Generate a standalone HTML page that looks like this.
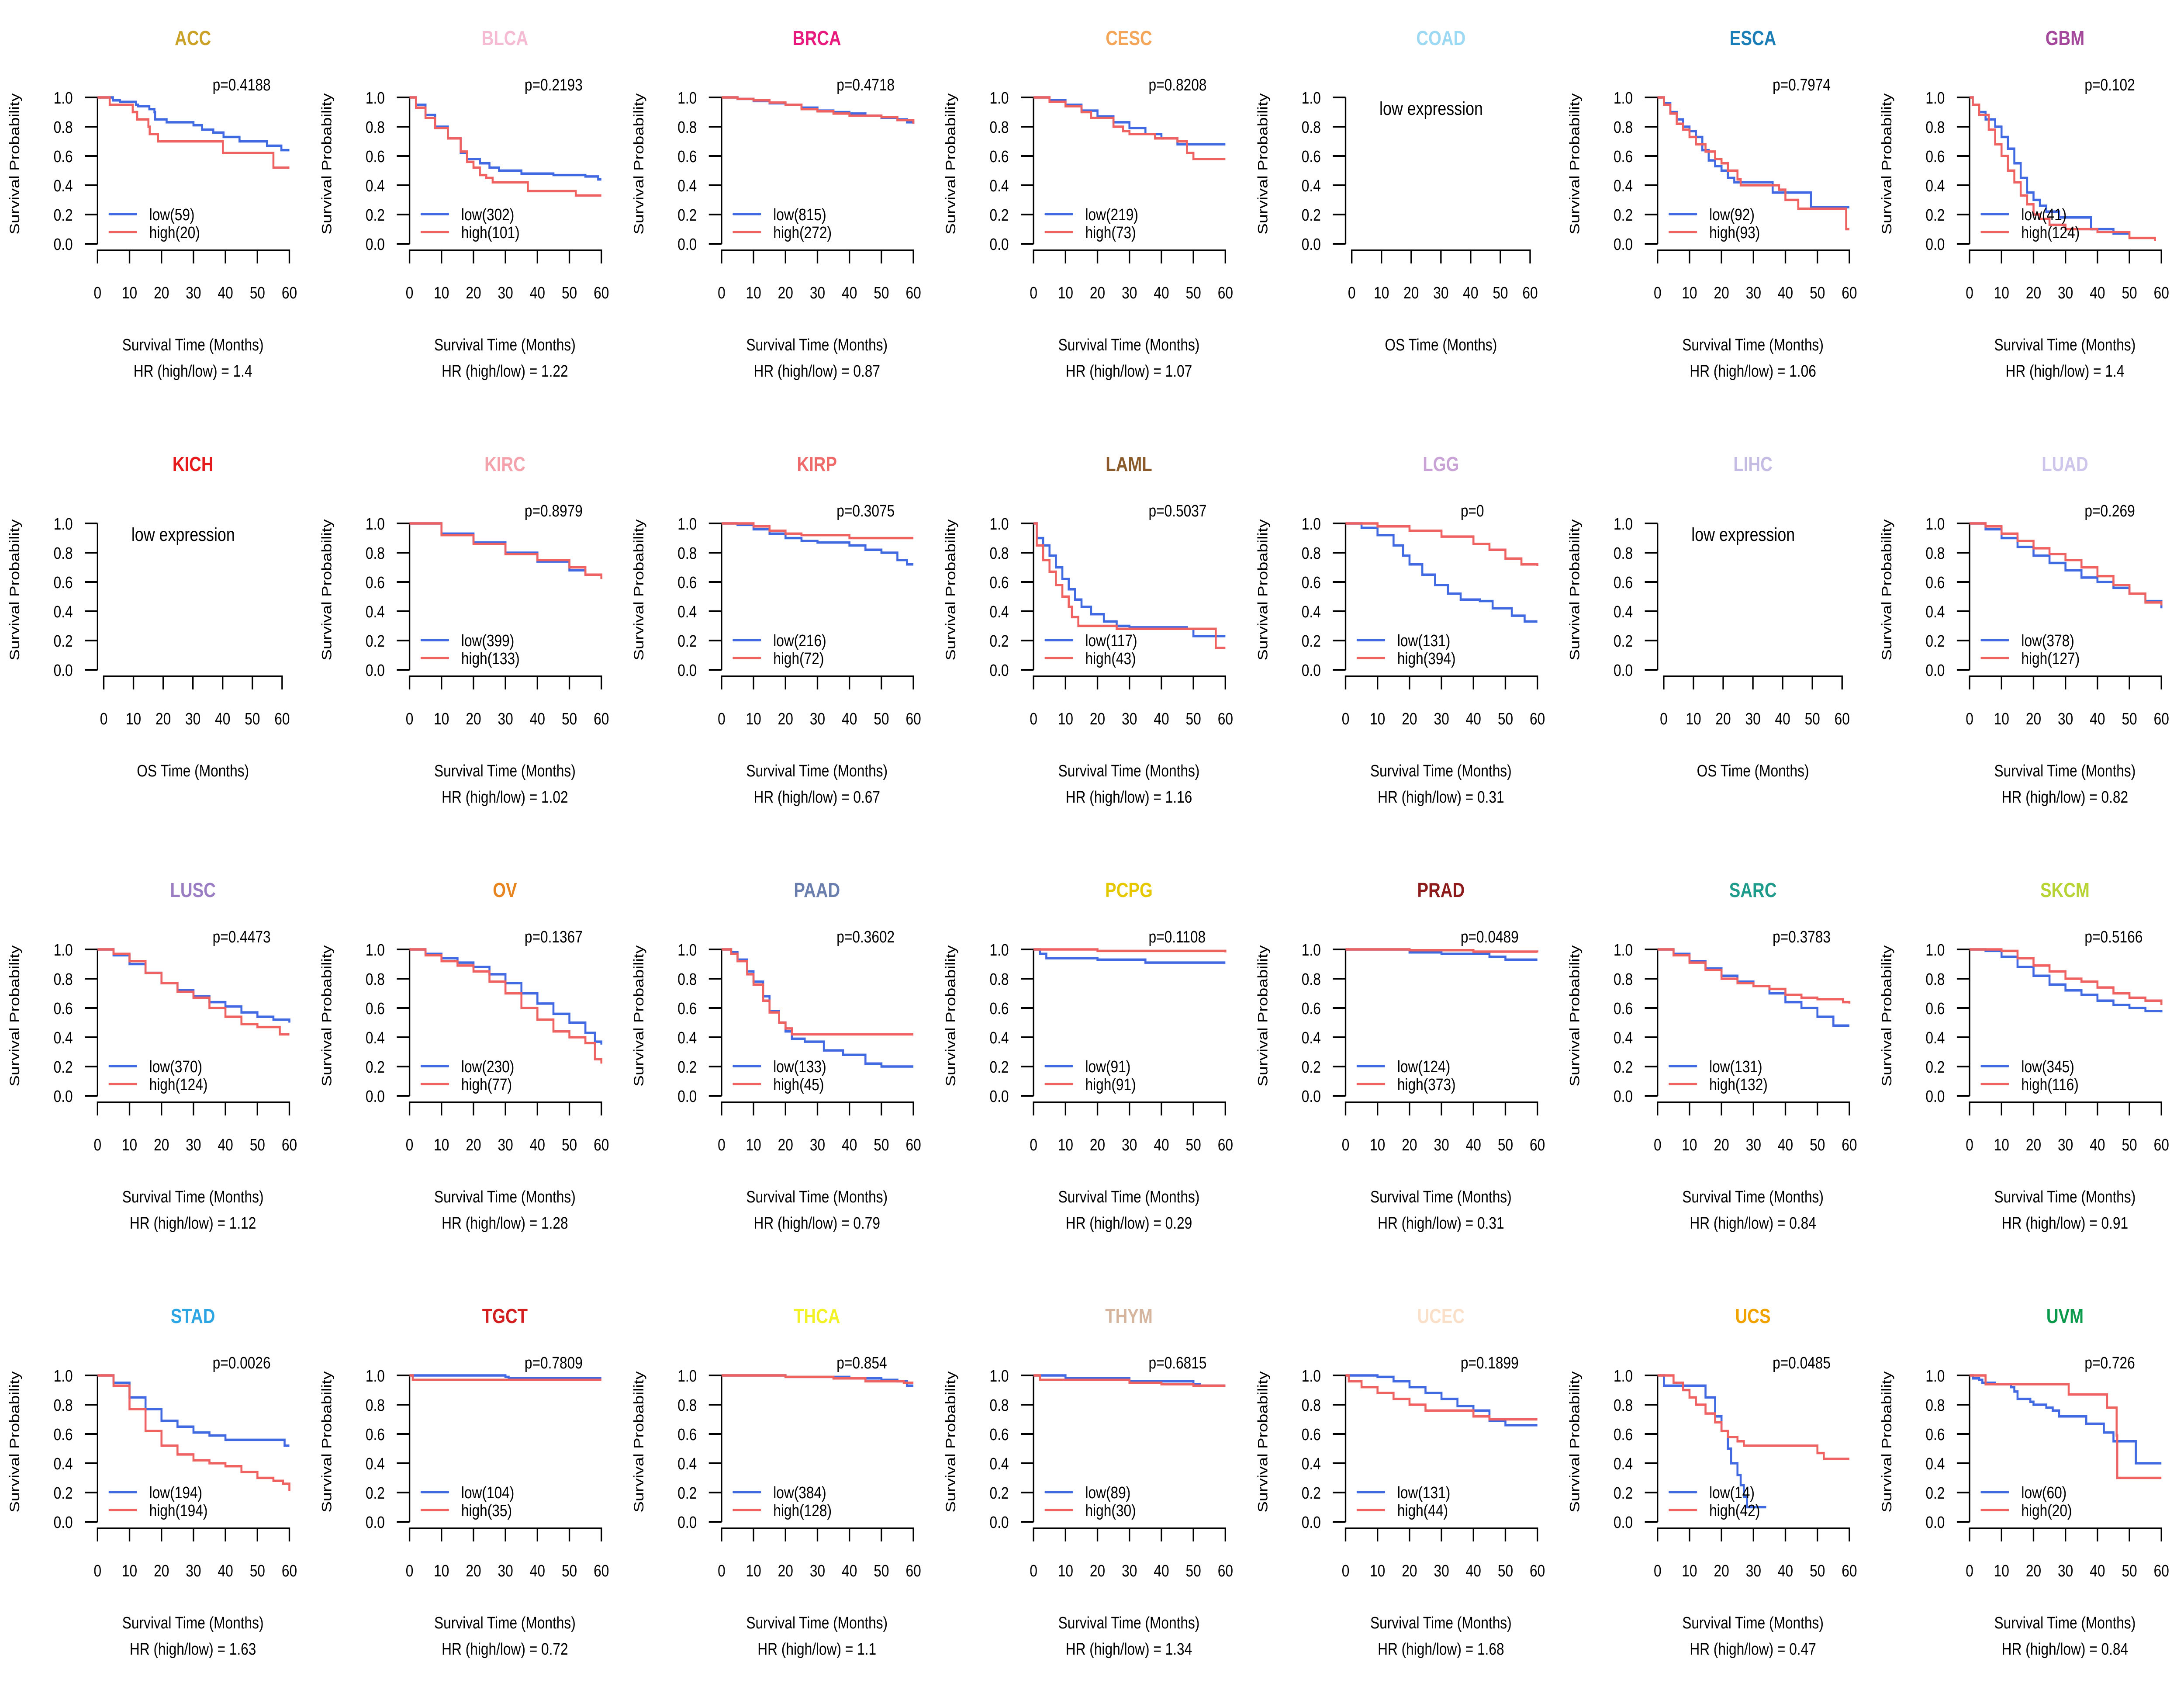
<!DOCTYPE html>
<html><head><meta charset="utf-8">
<style>html,body{margin:0;padding:0;background:#fff;overflow:hidden;width:100vw;height:100vh}svg{display:block;width:100vw;height:100vh}text{font-family:"Liberation Sans",Arial,sans-serif}</style>
</head><body>
<svg id="chart" viewBox="0 0 6000 3900" preserveAspectRatio="none" xmlns="http://www.w3.org/2000/svg"></svg>
<script>
const cancers=["ACC","BLCA","BRCA","CESC","COAD","ESCA","GBM","KICH","KIRC","KIRP","LAML","LGG","LIHC","LUAD","LUSC","OV","PAAD","PCPG","PRAD","SARC","SKCM","STAD","TGCT","THCA","THYM","UCEC","UCS","UVM"];
const titleColors=["#C9A227","#F5BBD3","#E8197D","#F3A65A","#9ED9F3","#1B7DB5","#A3489B","#E41A1C","#F4A3AC","#EE6A6A","#8B5A2B","#C9A3D6","#C4BCE2","#CDC6EA","#9A7DC3","#E8841E","#6A7EAE","#E6C800","#8E1B1B","#1E9B8A","#B7D434","#2DA5E3","#D21E1E","#F2F226","#D6B59E","#FBE0C9","#F0A200","#0B9A4B"];
const pValues=["p=0.4188","p=0.2193","p=0.4718","p=0.8208","","p=0.7974","p=0.102","","p=0.8979","p=0.3075","p=0.5037","p=0","","p=0.269","p=0.4473","p=0.1367","p=0.3602","p=0.1108","p=0.0489","p=0.3783","p=0.5166","p=0.0026","p=0.7809","p=0.854","p=0.6815","p=0.1899","p=0.0485","p=0.726"];
const nLow=[59,302,815,219,0,92,41,0,399,216,117,131,0,378,370,230,133,91,124,131,345,194,104,384,89,131,14,60];
const nHigh=[20,101,272,73,0,93,124,0,133,72,43,394,0,127,124,77,45,91,373,132,116,194,35,128,30,44,42,20];
const hrValues=["1.4","1.22","0.87","1.07","","1.06","1.4","","1.02","0.67","1.16","0.31","","0.82","1.12","1.28","0.79","0.29","0.31","0.84","0.91","1.63","0.72","1.1","1.34","1.68","0.47","0.84"];
const lowCurves={
ACC:[[0,1],[4.8,.98],[7,.97],[12,.95],[12.7,.94],[16.2,.92],[17.8,.9],[18,.85],[21.6,.83],[30,.81],[32.7,.78],[36.2,.76],[39.4,.73],[44.4,.7],[53,.67],[57.5,.64],[60,.64]],
BLCA:[[0,1],[2,.95],[5,.88],[8,.8],[12,.72],[16,.62],[18,.58],[22,.55],[25,.52],[28,.5],[35,.48],[45,.47],[55,.46],[59,.44],[60,.44]],
BRCA:[[0,1],[5,.99],[10,.975],[15,.96],[20,.95],[25,.93],[30,.91],[35,.9],[40,.89],[45,.875],[50,.86],[55,.85],[58,.83],[60,.82]],
CESC:[[0,1],[5,.98],[10,.95],[15,.91],[20,.87],[25,.83],[30,.79],[35,.75],[40,.72],[45,.68],[60,.68]],
ESCA:[[0,1],[2,.96],[4,.9],[6,.85],[8,.8],[10,.77],[12,.73],[14,.64],[16,.57],[18,.53],[20,.5],[22,.45],[24,.42],[28,.42],[36,.35],[48,.25],[60,.25]],
GBM:[[0,1],[1,.95],[3,.9],[5,.85],[8,.8],[10,.73],[12,.65],[14,.55],[16,.45],[18,.35],[20,.3],[22,.26],[24,.22],[28,.18],[38,.1],[45,.07],[50,.07]],
KIRC:[[0,1],[10,.93],[20,.87],[30,.8],[40,.74],[50,.68],[55,.65],[60,.63]],
KIRP:[[0,1],[5,.99],[10,.96],[15,.93],[20,.9],[25,.88],[30,.87],[40,.85],[45,.82],[50,.8],[55,.75],[58,.72],[60,.72]],
LAML:[[0,1],[1,.9],[3,.85],[5,.78],[7,.7],[9,.62],[11,.55],[13,.48],[15,.43],[18,.38],[22,.33],[26,.3],[30,.29],[48,.28],[50,.23],[60,.23]],
LGG:[[0,1],[5,.97],[10,.92],[15,.85],[18,.78],[20,.72],[24,.65],[28,.58],[32,.52],[36,.48],[42,.47],[46,.42],[52,.37],[56,.33],[60,.33]],
LUAD:[[0,1],[5,.96],[10,.9],[15,.84],[20,.78],[25,.73],[30,.68],[35,.63],[40,.6],[45,.56],[50,.52],[55,.47],[60,.42]],
LUSC:[[0,1],[5,.96],[10,.9],[15,.84],[20,.77],[25,.72],[30,.68],[35,.64],[40,.61],[45,.57],[50,.54],[55,.52],[60,.5]],
OV:[[0,1],[5,.97],[10,.94],[15,.91],[20,.88],[25,.83],[30,.77],[35,.7],[40,.63],[45,.56],[50,.5],[55,.43],[58,.37],[60,.35]],
PAAD:[[0,1],[3,.98],[5,.93],[8,.85],[10,.78],[13,.68],[15,.58],[18,.5],[20,.44],[22,.39],[26,.37],[32,.31],[38,.28],[45,.22],[50,.2],[60,.2]],
PCPG:[[0,1],[2,.97],[4,.94],[20,.93],[35,.91],[60,.91]],
PRAD:[[0,1],[20,.98],[30,.97],[45,.95],[50,.93],[60,.93]],
SARC:[[0,1],[5,.97],[10,.92],[15,.87],[20,.82],[25,.78],[30,.75],[35,.7],[40,.64],[45,.6],[50,.54],[55,.48],[60,.48]],
SKCM:[[0,1],[5,.99],[10,.95],[15,.88],[20,.82],[25,.76],[30,.72],[35,.69],[40,.65],[45,.62],[50,.6],[55,.58],[60,.57]],
STAD:[[0,1],[5,.95],[10,.85],[15,.77],[20,.69],[25,.65],[30,.61],[35,.59],[40,.56],[58,.56],[58.5,.52],[60,.52]],
TGCT:[[0,1],[30,.99],[31,.98],[60,.98]],
THCA:[[0,1],[20,.99],[40,.98],[50,.97],[55,.96],[58,.93],[60,.93]],
THYM:[[0,1],[10,.98],[30,.96],[50,.94],[52,.93],[60,.93]],
UCEC:[[0,1],[10,.99],[15,.96],[20,.92],[25,.88],[30,.84],[35,.79],[40,.76],[45,.69],[50,.66],[60,.66]],
UCS:[[0,1],[2,.93],[13,.93],[15,.85],[18,.72],[20,.62],[22,.5],[23,.4],[25,.32],[26,.25],[27,.17],[28,.1],[34,.1]],
UVM:[[0,1],[1,.98],[3,.97],[4,.95],[8,.94],[13,.92],[14,.89],[15,.84],[19,.82],[20,.8],[24,.78],[26,.76],[28,.72],[36.5,.67],[42,.61],[45,.55],[52,.4],[60,.4]]
};
const highCurves={
ACC:[[0,1],[3.8,.95],[11,.9],[12.4,.85],[15.9,.8],[16.3,.75],[18.9,.7],[39.2,.62],[55,.52],[60,.52]],
BLCA:[[0,1],[2,.93],[5,.86],[8,.79],[12,.72],[16,.63],[18,.56],[20,.52],[22,.47],[24,.45],[26,.42],[35,.42],[37,.36],[47,.36],[52,.33],[60,.33]],
BRCA:[[0,1],[5,.99],[10,.98],[15,.965],[20,.95],[25,.92],[30,.905],[35,.89],[40,.875],[50,.865],[55,.845],[60,.82]],
CESC:[[0,1],[5,.97],[10,.94],[15,.9],[18,.86],[25,.8],[28,.77],[30,.75],[38,.72],[45,.7],[48,.62],[50,.58],[60,.58]],
ESCA:[[0,1],[2,.95],[4,.89],[6,.82],[8,.78],[10,.73],[12,.68],[15,.63],[18,.58],[20,.55],[22,.5],[25,.44],[26,.4],[38,.37],[40,.3],[44,.24],[59,.1],[60,.1]],
GBM:[[0,1],[1,.95],[3,.88],[6,.78],[8,.68],[10,.6],[12,.5],[14,.42],[16,.33],[18,.27],[20,.2],[22,.17],[25,.13],[30,.1],[40,.08],[50,.04],[58,.02]],
KIRC:[[0,1],[10,.92],[20,.86],[30,.79],[40,.75],[50,.7],[55,.65],[60,.62]],
KIRP:[[0,1],[10,.98],[15,.95],[20,.93],[25,.92],[35,.92],[40,.9],[60,.9]],
LAML:[[0,1],[1,.85],[3,.75],[5,.67],[7,.58],[9,.5],[11,.43],[12,.36],[14,.3],[20,.3],[26,.28],[47,.28],[57,.15],[60,.15]],
LGG:[[0,1],[10,.98],[20,.95],[30,.91],[40,.86],[45,.82],[50,.76],[55,.72],[60,.71]],
LUAD:[[0,1],[5,.98],[10,.93],[15,.88],[20,.83],[25,.79],[30,.75],[35,.7],[40,.64],[45,.58],[50,.52],[55,.46],[60,.44]],
LUSC:[[0,1],[5,.97],[10,.92],[15,.84],[20,.77],[25,.71],[30,.67],[35,.6],[40,.54],[45,.49],[50,.47],[55,.47],[57,.42],[60,.42]],
OV:[[0,1],[5,.96],[10,.92],[15,.89],[20,.85],[25,.78],[30,.7],[35,.6],[40,.52],[45,.44],[50,.4],[55,.36],[58,.25],[60,.22]],
PAAD:[[0,1],[3,.97],[5,.92],[8,.83],[10,.76],[13,.65],[15,.57],[18,.5],[20,.46],[22,.42],[60,.42]],
PCPG:[[0,1],[20,.99],[60,.98]],
PRAD:[[0,1],[20,.995],[40,.985],[60,.98]],
SARC:[[0,1],[5,.96],[10,.91],[15,.86],[20,.8],[25,.77],[30,.75],[35,.73],[40,.69],[45,.67],[50,.66],[55,.66],[58,.64],[60,.63]],
SKCM:[[0,1],[10,.99],[15,.94],[20,.89],[25,.85],[30,.8],[35,.78],[40,.74],[45,.7],[50,.67],[55,.65],[60,.62]],
STAD:[[0,1],[5,.93],[10,.77],[15,.62],[20,.52],[25,.46],[30,.42],[35,.4],[40,.38],[45,.34],[50,.3],[55,.28],[58,.26],[60,.21]],
TGCT:[[0,1],[1,.97],[60,.97]],
THCA:[[0,1],[20,.99],[35,.98],[45,.96],[55,.96],[57,.95],[60,.95]],
THYM:[[0,1],[2,.97],[30,.95],[40,.94],[50,.93],[60,.93]],
UCEC:[[0,1],[1,.96],[5,.92],[10,.88],[15,.84],[20,.8],[25,.76],[35,.76],[40,.72],[45,.7],[60,.7]],
UCS:[[0,1],[5,.95],[8,.9],[10,.85],[12,.8],[15,.74],[18,.68],[20,.62],[22,.58],[25,.55],[27,.52],[45,.52],[50,.47],[52,.43],[60,.43]],
UVM:[[0,1],[5,.94],[21,.94],[31,.87],[43,.78],[46,.59],[46.2,.3],[60,.3]]
};
const yTicks=[0,0.2,0.4,0.6,0.8,1.0];
const xTicks=[0,10,20,30,40,50,60];

const NS="http://www.w3.org/2000/svg";
const svg=document.getElementById('chart');
function mk(tag,attrs,parent){const e=document.createElementNS(NS,tag);for(const k in attrs)e.setAttribute(k,attrs[k]);(parent||svg).appendChild(e);return e;}
const colW=6000/7,rowH=975;
const X0=268,X1=795,Y1=223,Y0=558;
cancers.forEach((name,i)=>{
  const ox=(i%7)*colW, oy=Math.floor(i/7)*rowH;
  const g=mk('g',{transform:`translate(${ox.toFixed(1)},${oy})`});
  
  
  const empty=nLow[i]===0;
  const xa0=empty?285:X0, xa1=empty?775:X1;
  const sx=t=>xa0+(xa1-xa0)*t/60;
  const sy=s=>Y0-(Y0-Y1)*s;
  const t=mk('text',{x:530,y:103,'text-anchor':'middle','font-size':46,'font-weight':'bold',fill:titleColors[i]},g);t.textContent=name;
  
  
  const ya=mk('line',{x1:X0,y1:Y1,x2:X0,y2:Y0,stroke:'#000','stroke-width':4},g);
  
  
  yTicks.forEach(v=>{
    mk('line',{x1:233,y1:sy(v),x2:X0,y2:sy(v),stroke:'#000','stroke-width':4},g);
    const l=mk('text',{x:200,y:sy(v)+14,'text-anchor':'end','font-size':38},g);l.textContent=v.toFixed(1);
    
    
  });
  const yl=mk('text',{transform:'translate(53,375) rotate(-90)','text-anchor':'middle','font-size':38},g);yl.textContent='Survival Probability';
  
  
  const xa=mk('line',{x1:xa0,y1:573,x2:xa1,y2:573,stroke:'#000','stroke-width':4},g);
  
  
  xTicks.forEach(v=>{
    mk('line',{x1:sx(v),y1:571,x2:sx(v),y2:603,stroke:'#000','stroke-width':4},g);
    const l=mk('text',{x:sx(v),y:683,'text-anchor':'middle','font-size':38},g);l.textContent=v;
    
    
  });
  const xt=mk('text',{x:530,y:802,'text-anchor':'middle','font-size':38},g);xt.textContent=empty?'OS Time (Months)':'Survival Time (Months)';
  
  
  if(empty){
    const le=mk('text',{x:361,y:263,'font-size':43},g);le.textContent='low expression';
    
    
    return;
  }
  const hr=mk('text',{x:530,y:862,'text-anchor':'middle','font-size':38,'xml:space':'preserve'},g);hr.textContent='HR (high/low) =  '+hrValues[i];
  
  
  const p=mk('text',{x:584,y:207,'font-size':38},g);p.textContent=pValues[i];
  
  
  [[lowCurves[name],'#4169E1','low-curve'],[highCurves[name],'#EF6262','high-curve']].forEach(([pts,col,nm])=>{
    let d='M'+sx(pts[0][0]).toFixed(1)+','+sy(pts[0][1]).toFixed(1);
    for(let k=1;k<pts.length;k++){d+='H'+sx(pts[k][0]).toFixed(1)+'V'+sy(pts[k][1]).toFixed(1);}
    const pa=mk('path',{d:d,fill:'none',stroke:col,'stroke-width':5.5},g);
    
    
  });
  [['low('+nLow[i]+')','#4169E1',490],['high('+nHigh[i]+')','#EF6262',531]].forEach(([lab,col,y])=>{
    const ln=mk('line',{x1:301,y1:y,x2:374,y2:y,stroke:col,'stroke-width':5.5,'stroke-linecap':'round'},g);
    
    
    const tx=mk('text',{x:410,y:y+14,'font-size':38},g);tx.textContent=lab;
    
    
  });
});
</script>
</body></html>
